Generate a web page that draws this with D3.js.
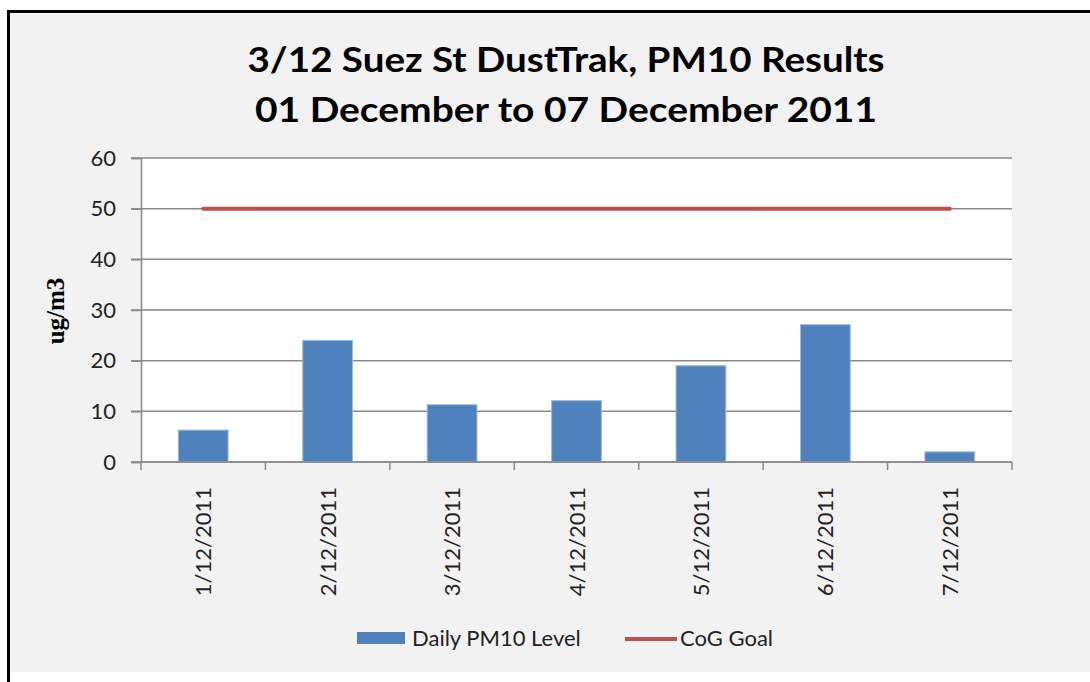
<!DOCTYPE html>
<html>
<head>
<meta charset="utf-8">
<script src="https://cdn.jsdelivr.net/npm/d3@7"></script>
<style>
html,body{margin:0;padding:0;background:#fff;}
svg{display:block;}
</style>
</head>
<body>
<script>
const categories = ["1/12/2011","2/12/2011","3/12/2011","4/12/2011","5/12/2011","6/12/2011","7/12/2011"];
const pm10Values = [6.3, 24.0, 11.3, 12.1, 19.0, 27.1, 2.0];
const goalValues = [50, 50, 50, 50, 50, 50, 50];
const yTicks = [0, 10, 20, 30, 40, 50, 60];
const titleLines = ["3/12 Suez St DustTrak, PM10 Results", "01 December to 07 December 2011"];
const seriesNames = ["Daily PM10 Level", "CoG Goal"];

const W = 1090, H = 682;
const svg = d3.select("body").append("svg").attr("width", W).attr("height", H);

// chart background + border
svg.append("rect").attr("x", 10).attr("y", 12).attr("width", W - 10).attr("height", 660).attr("fill", "#f2f2f2");
svg.append("line").attr("x1", 8.5).attr("x2", 8.5).attr("y1", 10).attr("y2", H).attr("stroke", "#000").attr("stroke-width", 3);
svg.append("line").attr("x1", 7).attr("x2", W).attr("y1", 11.5).attr("y2", 11.5).attr("stroke", "#000").attr("stroke-width", 3);

const font = "Lato, 'Open Sans', sans-serif";

// title
const titleWidths = [637, 622];
svg.selectAll("text.title").data(titleLines).enter().append("text")
  .attr("class", "title")
  .attr("x", 566).attr("y", (d, i) => 72 + i * 50)
  .attr("text-anchor", "middle")
  .attr("font-family", font).attr("font-weight", "bold").attr("font-size", 35)
  .attr("textLength", (d, i) => titleWidths[i]).attr("lengthAdjust", "spacingAndGlyphs")
  .attr("fill", "#000").text(d => d);

const plot = {left: 141, right: 1012, top: 158, bottom: 462};
const x = d3.scaleBand().domain(categories).range([plot.left, plot.right]).paddingInner(0.6).paddingOuter(0.3);
const xc = d3.scaleBand().domain(categories).range([plot.left, plot.right]);
const y = d3.scaleLinear().domain([0, 60]).range([plot.bottom, plot.top]);

svg.append("rect").attr("x", plot.left).attr("y", plot.top)
  .attr("width", plot.right - plot.left).attr("height", plot.bottom - plot.top).attr("fill", "#fff");

// grid lines
svg.append("g").selectAll("line").data(yTicks).enter().append("line")
  .attr("x1", plot.left - 10).attr("x2", plot.right)
  .attr("y1", d => y(d)).attr("y2", d => y(d))
  .attr("stroke", "#8a8a8a").attr("stroke-width", 1.5);

// y axis
const yAxis = d3.axisLeft(y).tickValues(yTicks).tickSize(10).tickPadding(15);
const gy = svg.append("g").attr("transform", `translate(${plot.left},0)`).call(yAxis);
gy.select(".domain").attr("stroke", "#8a8a8a").attr("stroke-width", 1.5);
gy.selectAll(".tick line").attr("stroke", "#8a8a8a").attr("stroke-width", 1.5);
gy.selectAll(".tick text").attr("font-family", font).attr("font-size", 22).attr("fill", "#222");

// y title
svg.append("text").attr("transform", "translate(64,311) rotate(-90)")
  .attr("text-anchor", "middle").attr("font-family", "'Liberation Serif', serif")
  .attr("font-weight", "bold").attr("font-size", 25).attr("fill", "#000").text("ug/m3");

// bars
svg.append("g").selectAll("rect").data(pm10Values).enter().append("rect")
  .attr("x", (d, i) => x(categories[i]))
  .attr("y", d => y(d))
  .attr("width", x.bandwidth())
  .attr("height", d => y(0) - y(d))
  .attr("fill", "#4f81bd").attr("stroke", "#9bb8de").attr("stroke-width", 1);

// x axis
const gx = svg.append("g").attr("transform", `translate(0,${plot.bottom})`);
gx.append("line").attr("x1", plot.left).attr("x2", plot.right).attr("y1", 0).attr("y2", 0)
  .attr("stroke", "#8a8a8a").attr("stroke-width", 1.5);
const boundaries = categories.map(c => xc(c)).concat([plot.right]);
gx.selectAll("line.tk").data(boundaries).enter().append("line").attr("class", "tk")
  .attr("x1", d => d).attr("x2", d => d).attr("y1", 0).attr("y2", 8)
  .attr("stroke", "#8a8a8a").attr("stroke-width", 1.5);
gx.selectAll("text").data(categories).enter().append("text")
  .attr("transform", d => `translate(${xc(d) + xc.bandwidth() / 2 + 8},${25}) rotate(-90)`)
  .attr("text-anchor", "end").attr("font-family", font).attr("font-size", 22).attr("fill", "#222")
  .text(d => d);

// goal line
const line = d3.line().x((d, i) => xc(categories[i]) + xc.bandwidth() / 2).y(d => y(d));
svg.append("path").datum(goalValues).attr("d", line)
  .attr("fill", "none").attr("stroke", "#c0504d").attr("stroke-width", 4).attr("stroke-linecap", "round");

// legend
const lg = svg.append("g");
lg.append("rect").attr("x", 357).attr("y", 632).attr("width", 48).attr("height", 12).attr("fill", "#4f81bd");
lg.append("text").attr("x", 412).attr("y", 646).attr("font-family", font).attr("font-size", 22).attr("fill", "#222").text(seriesNames[0]);
lg.append("line").attr("x1", 625).attr("x2", 677).attr("y1", 639).attr("y2", 639).attr("stroke", "#c0504d").attr("stroke-width", 4);
lg.append("text").attr("x", 680).attr("y", 646).attr("font-family", font).attr("font-size", 22).attr("fill", "#222").text(seriesNames[1]);
</script>
</body>
</html>
